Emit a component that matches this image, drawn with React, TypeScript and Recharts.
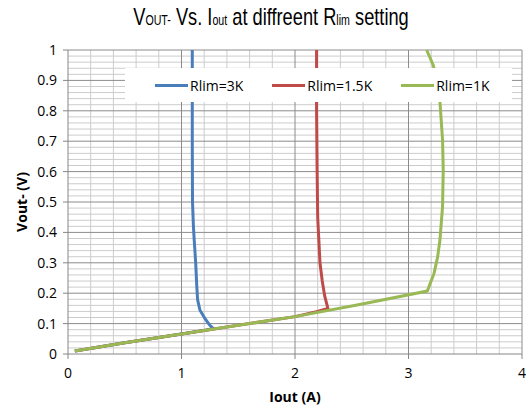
import { LineChart, Line, XAxis, YAxis, ReferenceLine } from "recharts";

// Rlim = 3K
const blueI = [1.095, 1.095, 1.097, 1.105, 1.112, 1.125, 1.135, 1.142, 1.162, 1.206, 1.248, 1.28, 1.22, 1.0, 0.5, 0.06];
const blueV = [1.0, 0.7, 0.5, 0.42, 0.375, 0.3, 0.22, 0.178, 0.145, 0.117, 0.095, 0.084, 0.079, 0.066, 0.037, 0.01];

// Rlim = 1.5K
const redI = [2.19, 2.19, 2.195, 2.2, 2.21, 2.22, 2.24, 2.262, 2.29, 2.19, 2.0, 1.0, 0.5, 0.06];
const redV = [1.0, 0.8, 0.6, 0.45, 0.375, 0.3, 0.24, 0.19, 0.15, 0.139, 0.123, 0.066, 0.037, 0.01];

// Rlim = 1K
const greenI = [3.16, 3.218, 3.25, 3.277, 3.3, 3.306, 3.3, 3.277, 3.257, 3.225, 3.175, 3.165, 2.57, 2.0, 1.0, 0.5, 0.06];
const greenV = [1.0, 0.95, 0.9, 0.83, 0.704, 0.605, 0.485, 0.375, 0.32, 0.265, 0.216, 0.207, 0.163, 0.123, 0.066, 0.037, 0.01];

const seriesNames = ["Rlim=3K", "Rlim=1.5K", "Rlim=1K"];
const seriesColors = ["#4a7ebb", "#be4b48", "#98b954"];

const xTicks = [0, 1, 2, 3, 4];
const yTicks = [0, 0.1, 0.2, 0.3, 0.4, 0.5, 0.6, 0.7, 0.8, 0.9, 1];
const xMinor = [0.2, 0.4, 0.6, 0.8, 1.2, 1.4, 1.6, 1.8, 2.2, 2.4, 2.6, 2.8, 3.2, 3.4, 3.6, 3.8];
const yMinor = Array.from({ length: 50 }, (_, i) => ((i + 1) * 2) / 100).filter(
  (v) => Math.round(v * 100) % 10 !== 0
);

const toPts = (xs: number[], ys: number[]) => xs.map((x, i) => ({ x, y: ys[i] }));
const series = [toPts(blueI, blueV), toPts(redI, redV), toPts(greenI, greenV)];

const font = "'Open Sans', sans-serif";
const tickFont = { fontFamily: font, fontSize: 14, fill: "#000" };

export default function App() {
  return (
    <div style={{ position: "absolute", left: 0, top: 0, width: 526, height: 411, background: "#fff" }}>
      {/* title, squeezed to mimic the condensed face */}
      <div
        style={{
          position: "absolute",
          left: 0,
          top: 2,
          width: 526,
          textAlign: "center",
          fontFamily: "'Liberation Sans', sans-serif",
          fontSize: 24,
          color: "#000",
          lineHeight: "30px",
          transform: "translateX(8px) scaleX(0.76)",
        }}
      >
        V<span style={{ fontSize: 14 }}>OUT-</span> Vs. I<span style={{ fontSize: 14 }}>out</span> at diffreent R
        <span style={{ fontSize: 14 }}>lim</span> setting
      </div>
      <LineChart width={526} height={411} margin={{ top: 50, right: 4, bottom: 0, left: 0 }}>
        {xMinor.map((v) => (
          <ReferenceLine key={"xm" + v} x={v} stroke="#cccccc" strokeWidth={1} />
        ))}
        {yMinor.map((v) => (
          <ReferenceLine key={"ym" + v} y={v} stroke="#cccccc" strokeWidth={1} />
        ))}
        {xTicks.slice(1).map((v) => (
          <ReferenceLine key={"xM" + v} x={v} stroke="#8c8c8c" strokeWidth={1} />
        ))}
        {yTicks.slice(1).map((v) => (
          <ReferenceLine key={"yM" + v} y={v} stroke="#8c8c8c" strokeWidth={1} />
        ))}
        <XAxis
          dataKey="x"
          type="number"
          domain={[0, 4]}
          ticks={xTicks}
          height={57}
          stroke="#868686"
          tickSize={5}
          tickMargin={9}
          tick={tickFont}
          label={{
            value: "Iout (A)",
            position: "insideBottom",
            offset: 9,
            style: { fontFamily: font, fontSize: 14, fontWeight: 700, fill: "#000" },
          }}
        />
        <YAxis
          dataKey="y"
          type="number"
          domain={[0, 1]}
          ticks={yTicks}
          width={68}
          stroke="#868686"
          tickSize={5}
          tickMargin={6}
          tick={tickFont}
          label={{
            value: "Vout- (V)",
            angle: -90,
            position: "insideLeft",
            offset: 22,
            style: { textAnchor: "middle", fontFamily: font, fontSize: 14, fontWeight: 700, fill: "#000" },
          }}
        />
        {series.map((d, i) => (
          <Line
            key={seriesNames[i]}
            data={d}
            dataKey="y"
            name={seriesNames[i]}
            type="linear"
            stroke={seriesColors[i]}
            strokeWidth={3}
            dot={false}
            isAnimationActive={false}
          />
        ))}
      </LineChart>
      {/* legend box sits over the plot, like the original */}
      <div
        style={{
          position: "absolute",
          left: 125,
          top: 68,
          width: 387,
          height: 34,
          display: "flex",
          alignItems: "center",
          gap: 29,
          paddingLeft: 30,
          boxSizing: "border-box",
          background: "#fff",
          fontFamily: font,
          fontSize: 14,
          color: "#000",
        }}
      >
        {seriesNames.map((n, i) => (
          <div key={n} style={{ display: "flex", alignItems: "center" }}>
            <span style={{ display: "inline-block", width: 33, height: 3, background: seriesColors[i], marginRight: 2 }} />
            <span>{n}</span>
          </div>
        ))}
      </div>
    </div>
  );
}
